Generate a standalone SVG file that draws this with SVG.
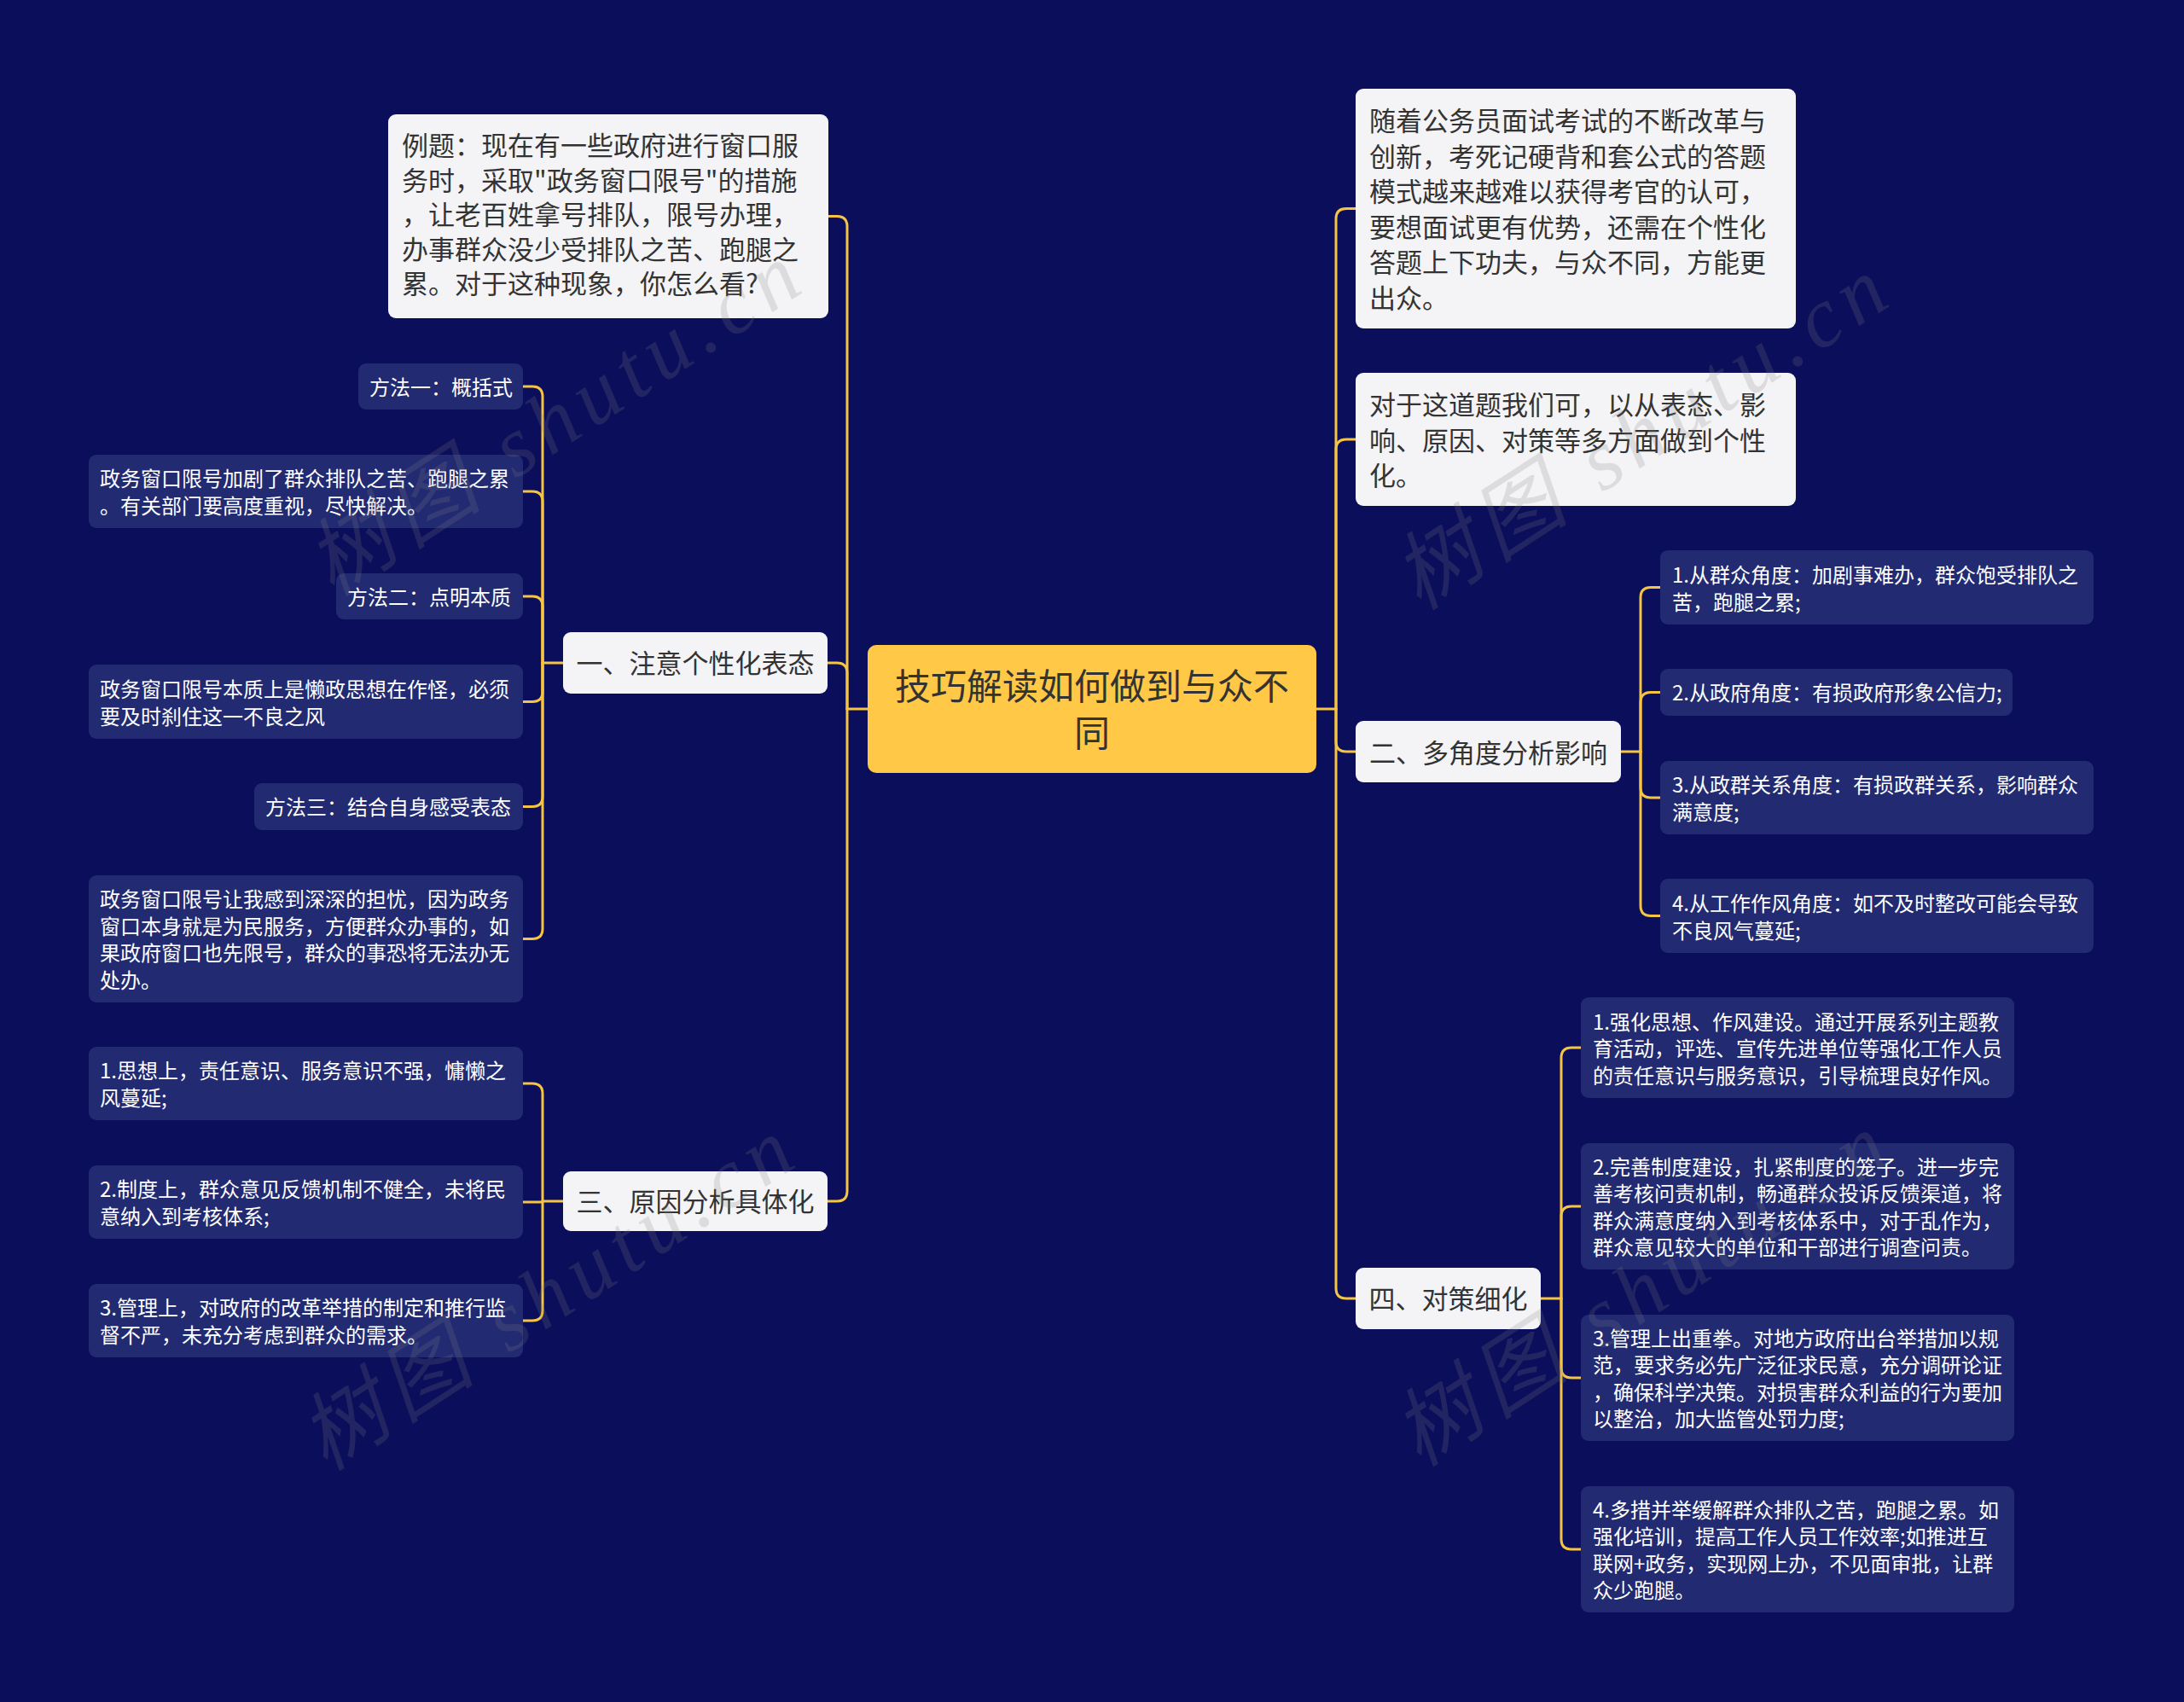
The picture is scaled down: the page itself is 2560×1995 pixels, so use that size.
<svg xmlns="http://www.w3.org/2000/svg" width="2560" height="1995" viewBox="0 0 2560 1995">
<style>
.conn{fill:none;stroke:#F5C443;stroke-width:3;stroke-linecap:round}
.white{fill:#F4F4F6}
.leaf{fill:#222A72}
.root{fill:#FFC846}
.t{font-family:"Noto Sans CJK SC","Noto Sans",sans-serif;dominant-baseline:central}
.tw{font-size:31px;fill:#333333}
.tl{font-size:24px;fill:#FFFFFF}
.tr{font-size:42px;fill:#333333}
.wm{font-family:"Liberation Serif","Noto Sans CJK SC",serif;font-style:italic;font-size:100px;letter-spacing:10px;fill:#808080;opacity:0.2;text-anchor:middle;dominant-baseline:central}
</style>
<rect x="0" y="0" width="2560" height="1995" fill="#0B0F5B"/>
<g id="connectors">
<path class="conn" d="M1017 831 H993"/>
<path class="conn" d="M993 831 V265.5 Q993 253.5 981 253.5 H970"/>
<path class="conn" d="M993 831 V789 Q993 777 981 777 H970"/>
<path class="conn" d="M993 831 V1396 Q993 1408 981 1408 H970"/>
<path class="conn" d="M1543 831 H1566"/>
<path class="conn" d="M1566 831 V256.5 Q1566 244.5 1578 244.5 H1589"/>
<path class="conn" d="M1566 831 V527 Q1566 515 1578 515 H1589"/>
<path class="conn" d="M1566 831 V869 Q1566 881 1578 881 H1589"/>
<path class="conn" d="M1566 831 V1510 Q1566 1522 1578 1522 H1589"/>
<path class="conn" d="M660 777 H636"/>
<path class="conn" d="M636 777 V465 Q636 453 624 453 H613"/>
<path class="conn" d="M636 777 V588 Q636 576 624 576 H613"/>
<path class="conn" d="M636 777 V711 Q636 699 624 699 H613"/>
<path class="conn" d="M636 777 V810.5 Q636 822.5 624 822.5 H613"/>
<path class="conn" d="M636 777 V933.5 Q636 945.5 624 945.5 H613"/>
<path class="conn" d="M636 777 V1088.5 Q636 1100.5 624 1100.5 H613"/>
<path class="conn" d="M660 1408 H636"/>
<path class="conn" d="M636 1408 V1282 Q636 1270 624 1270 H613"/>
<path class="conn" d="M636 1409 H613"/>
<path class="conn" d="M636 1408 V1536 Q636 1548 624 1548 H613"/>
<path class="conn" d="M1900 881 H1923"/>
<path class="conn" d="M1923 881 V700.5 Q1923 688.5 1935 688.5 H1946"/>
<path class="conn" d="M1923 881 V823.5 Q1923 811.5 1935 811.5 H1946"/>
<path class="conn" d="M1923 881 V923 Q1923 935 1935 935 H1946"/>
<path class="conn" d="M1923 881 V1061.5 Q1923 1073.5 1935 1073.5 H1946"/>
<path class="conn" d="M1806 1522 H1830"/>
<path class="conn" d="M1830 1522 V1240 Q1830 1228 1842 1228 H1853"/>
<path class="conn" d="M1830 1522 V1426 Q1830 1414 1842 1414 H1853"/>
<path class="conn" d="M1830 1522 V1603 Q1830 1615 1842 1615 H1853"/>
<path class="conn" d="M1830 1522 V1804 Q1830 1816 1842 1816 H1853"/>
</g>
<g id="root">
<rect class="root" x="1017" y="756" width="526" height="150" rx="10"/>
<text class="t tr" text-anchor="middle"><tspan x="1280" y="801">技巧解读如何做到与众不</tspan><tspan x="1280" y="856">同</tspan></text>
</g>
<g id="example">
<rect class="white" x="455" y="134" width="516" height="239" rx="9"/>
<text class="t tw"><tspan x="471" y="168">例题：现在有一些政府进行窗口服</tspan><tspan x="471" y="208.5">务时，采取"政务窗口限号"的措施</tspan><tspan x="471" y="249">，让老百姓拿号排队，限号办理，</tspan><tspan x="471" y="289.5">办事群众没少受排队之苦、跑腿之</tspan><tspan x="471" y="330">累。对于这种现象，你怎么看?</tspan></text>
</g>
<g id="branch1">
<rect class="white" x="660" y="741" width="310" height="72" rx="9"/>
<text class="t tw" x="815" y="775" text-anchor="middle">一、注意个性化表态</text>
</g>
<g id="b1c1">
<rect class="leaf" x="420" y="426" width="193" height="54" rx="9"/>
<text class="t tl" x="433" y="452">方法一：概括式</text>
</g>
<g id="b1c2">
<rect class="leaf" x="104" y="533" width="509" height="86" rx="9"/>
<text class="t tl"><tspan x="117" y="559">政务窗口限号加剧了群众排队之苦、跑腿之累</tspan><tspan x="117" y="591">。有关部门要高度重视，尽快解决。</tspan></text>
</g>
<g id="b1c3">
<rect class="leaf" x="394" y="672" width="219" height="54" rx="9"/>
<text class="t tl" x="407" y="698">方法二：点明本质</text>
</g>
<g id="b1c4">
<rect class="leaf" x="104" y="779" width="509" height="87" rx="9"/>
<text class="t tl"><tspan x="117" y="805.5">政务窗口限号本质上是懒政思想在作怪，必须</tspan><tspan x="117" y="837.5">要及时刹住这一不良之风</tspan></text>
</g>
<g id="b1c5">
<rect class="leaf" x="298" y="918" width="315" height="55" rx="9"/>
<text class="t tl" x="311" y="944.5">方法三：结合自身感受表态</text>
</g>
<g id="b1c6">
<rect class="leaf" x="104" y="1026" width="509" height="149" rx="9"/>
<text class="t tl"><tspan x="117" y="1052.25">政务窗口限号让我感到深深的担忧，因为政务</tspan><tspan x="117" y="1083.75">窗口本身就是为民服务，方便群众办事的，如</tspan><tspan x="117" y="1115.25">果政府窗口也先限号，群众的事恐将无法办无</tspan><tspan x="117" y="1146.75">处办。</tspan></text>
</g>
<g id="branch3">
<rect class="white" x="660" y="1373" width="310" height="70" rx="9"/>
<text class="t tw" x="815" y="1406" text-anchor="middle">三、原因分析具体化</text>
</g>
<g id="b3c1">
<rect class="leaf" x="104" y="1227" width="509" height="86" rx="9"/>
<text class="t tl"><tspan x="117" y="1253">1.思想上，责任意识、服务意识不强，慵懒之</tspan><tspan x="117" y="1285">风蔓延;</tspan></text>
</g>
<g id="b3c2">
<rect class="leaf" x="104" y="1366" width="509" height="86" rx="9"/>
<text class="t tl"><tspan x="117" y="1392">2.制度上，群众意见反馈机制不健全，未将民</tspan><tspan x="117" y="1424">意纳入到考核体系;</tspan></text>
</g>
<g id="b3c3">
<rect class="leaf" x="104" y="1505" width="509" height="86" rx="9"/>
<text class="t tl"><tspan x="117" y="1531">3.管理上，对政府的改革举措的制定和推行监</tspan><tspan x="117" y="1563">督不严，未充分考虑到群众的需求。</tspan></text>
</g>
<g id="intro">
<rect class="white" x="1589" y="104" width="516" height="281" rx="9"/>
<text class="t tw"><tspan x="1605" y="139">随着公务员面试考试的不断改革与</tspan><tspan x="1605" y="180.6">创新，考死记硬背和套公式的答题</tspan><tspan x="1605" y="222.2">模式越来越难以获得考官的认可，</tspan><tspan x="1605" y="263.8">要想面试更有优势，还需在个性化</tspan><tspan x="1605" y="305.4">答题上下功夫，与众不同，方能更</tspan><tspan x="1605" y="347">出众。</tspan></text>
</g>
<g id="approach">
<rect class="white" x="1589" y="437" width="516" height="156" rx="9"/>
<text class="t tw"><tspan x="1605" y="472">对于这道题我们可，以从表态、影</tspan><tspan x="1605" y="513.5">响、原因、对策等多方面做到个性</tspan><tspan x="1605" y="555">化。</tspan></text>
</g>
<g id="branch2">
<rect class="white" x="1589" y="845" width="311" height="72" rx="9"/>
<text class="t tw" x="1744.5" y="880" text-anchor="middle">二、多角度分析影响</text>
</g>
<g id="b2c1">
<rect class="leaf" x="1946" y="645" width="508" height="87" rx="9"/>
<text class="t tl"><tspan x="1960" y="671.5">1.从群众角度：加剧事难办，群众饱受排队之</tspan><tspan x="1960" y="703.5">苦，跑腿之累;</tspan></text>
</g>
<g id="b2c2">
<rect class="leaf" x="1946" y="784" width="413" height="55" rx="9"/>
<text class="t tl" x="1960" y="810.5">2.从政府角度：有损政府形象公信力;</text>
</g>
<g id="b2c3">
<rect class="leaf" x="1946" y="892" width="508" height="86" rx="9"/>
<text class="t tl"><tspan x="1960" y="918">3.从政群关系角度：有损政群关系，影响群众</tspan><tspan x="1960" y="950">满意度;</tspan></text>
</g>
<g id="b2c4">
<rect class="leaf" x="1946" y="1030" width="508" height="87" rx="9"/>
<text class="t tl"><tspan x="1960" y="1056.5">4.从工作作风角度：如不及时整改可能会导致</tspan><tspan x="1960" y="1088.5">不良风气蔓延;</tspan></text>
</g>
<g id="branch4">
<rect class="white" x="1589" y="1486" width="217" height="72" rx="9"/>
<text class="t tw" x="1697.5" y="1520" text-anchor="middle">四、对策细化</text>
</g>
<g id="b4c1">
<rect class="leaf" x="1853" y="1169" width="508" height="118" rx="9"/>
<text class="t tl"><tspan x="1867" y="1195.5">1.强化思想、作风建设。通过开展系列主题教</tspan><tspan x="1867" y="1227">育活动，评选、宣传先进单位等强化工作人员</tspan><tspan x="1867" y="1258.5">的责任意识与服务意识，引导梳理良好作风。</tspan></text>
</g>
<g id="b4c2">
<rect class="leaf" x="1853" y="1340" width="508" height="148" rx="9"/>
<text class="t tl"><tspan x="1867" y="1365.75">2.完善制度建设，扎紧制度的笼子。进一步完</tspan><tspan x="1867" y="1397.25">善考核问责机制，畅通群众投诉反馈渠道，将</tspan><tspan x="1867" y="1428.75">群众满意度纳入到考核体系中，对于乱作为，</tspan><tspan x="1867" y="1460.25">群众意见较大的单位和干部进行调查问责。</tspan></text>
</g>
<g id="b4c3">
<rect class="leaf" x="1853" y="1541" width="508" height="148" rx="9"/>
<text class="t tl"><tspan x="1867" y="1566.75">3.管理上出重拳。对地方政府出台举措加以规</tspan><tspan x="1867" y="1598.25">范，要求务必先广泛征求民意，充分调研论证</tspan><tspan x="1867" y="1629.75">，确保科学决策。对损害群众利益的行为要加</tspan><tspan x="1867" y="1661.25">以整治，加大监管处罚力度;</tspan></text>
</g>
<g id="b4c4">
<rect class="leaf" x="1853" y="1742" width="508" height="148" rx="9"/>
<text class="t tl"><tspan x="1867" y="1767.75">4.多措并举缓解群众排队之苦，跑腿之累。如</tspan><tspan x="1867" y="1799.25">强化培训，提高工作人员工作效率;如推进互</tspan><tspan x="1867" y="1830.75">联网+政务，实现网上办，不见面审批，让群</tspan><tspan x="1867" y="1862.25">众少跑腿。</tspan></text>
</g>
<g id="watermarks">
<text class="wm" transform="translate(653 490) rotate(-33)">树图 shutu.cn</text>
<text class="wm" transform="translate(1927 506) rotate(-33)">树图 shutu.cn</text>
<text class="wm" transform="translate(645 1515) rotate(-33)">树图 shutu.cn</text>
<text class="wm" transform="translate(1927 1510) rotate(-33)">树图 shutu.cn</text>
</g>
</svg>
